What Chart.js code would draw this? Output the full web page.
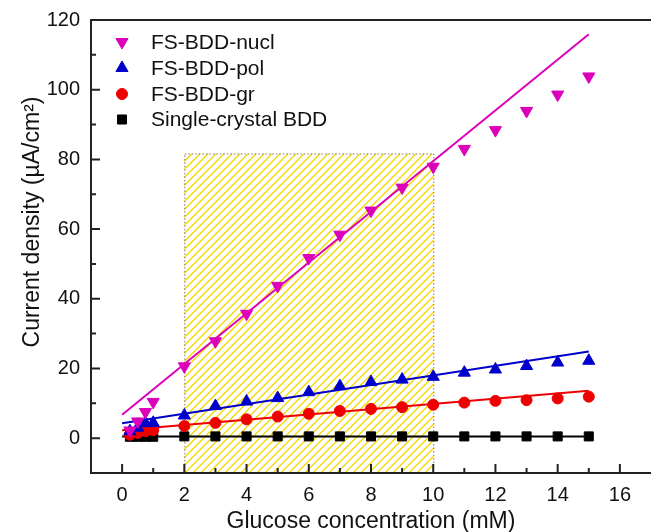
<!DOCTYPE html>
<html>
<head>
<meta charset="utf-8">
<script src="https://cdn.jsdelivr.net/npm/chart.js@4.4.0/dist/chart.umd.min.js"></script>
<style>
    html, body { margin: 0; padding: 0; background: #fff; }
    #wrap { width: 651px; height: 532px; }
</style>
</head>
<body>
<div id="wrap"><canvas id="densityChart" width="651" height="532"></canvas></div>
<script>
// ============================================
// DATA
// ============================================

const concentration = [0.25, 0.5, 0.75, 1, 2, 3, 4, 5, 6, 7, 8, 9, 10, 11, 12, 13, 14, 15];
const nuclDensity   = [2.2, 4.8, 7.5, 10.4, 20.6, 27.8, 35.7, 43.7, 51.7, 58.4, 65.3, 71.9, 77.9, 83.0, 88.4, 93.9, 98.6, 103.8];
const polDensity    = [2.0, 3.0, 4.3, 4.4, 6.5, 9.2, 10.5, 11.5, 13.2, 14.9, 16.1, 16.8, 17.6, 18.8, 19.7, 20.7, 21.7, 22.2];
const grDensity     = [1.0, 1.5, 2.0, 2.3, 3.5, 4.4, 5.4, 6.2, 7.0, 7.8, 8.4, 8.9, 9.6, 10.2, 10.7, 10.9, 11.4, 11.9];
const singleDensity = [0.4, 0.4, 0.4, 0.4, 0.5, 0.5, 0.5, 0.5, 0.5, 0.5, 0.5, 0.5, 0.5, 0.5, 0.5, 0.5, 0.5, 0.5];

// linear fits (end points)
const fitRange  = [0, 15];
const nuclFit   = [6.7, 115.9];
const polFit    = [4.3, 24.9];
const grFit     = [2.3, 13.6];
const singleFit = [0.5, 0.5];

// hatched linear range
const hatchRange = [2, 10];
const hatchTop = 81.7;

const seriesNames = ['FS-BDD-nucl', 'FS-BDD-pol', 'FS-BDD-gr', 'Single-crystal BDD'];

const xTicks = [0, 2, 4, 6, 8, 10, 12, 14, 16];
const xMinorTicks = [-1, 1, 3, 5, 7, 9, 11, 13, 15];
const yTicks = [0, 20, 40, 60, 80, 100, 120];
const yMinorTicks = [-10, 10, 30, 50, 70, 90, 110];

// ============================================
// STYLE
// ============================================

const FONT = "'Liberation Sans', Arial, sans-serif";
const colors = ['#DD00BB', '#0000CC', '#EE0000', '#000000'];
const markers = [
    { pointStyle: 'triangle', rotation: 180, radius: 7 },
    { pointStyle: 'triangle', rotation: 0, radius: 7 },
    { pointStyle: 'circle', rotation: 0, radius: 5.5 },
    { pointStyle: 'rect', rotation: 0, radius: 6.4 }
];

function toPoints(xs, ys) {
    return xs.map((x, i) => ({ x: x, y: ys[i] }));
}

function pointSet(i, values) {
    return {
        label: seriesNames[i],
        data: toPoints(concentration, values),
        showLine: false,
        pointStyle: markers[i].pointStyle,
        rotation: markers[i].rotation,
        pointRadius: markers[i].radius,
        pointBackgroundColor: colors[i],
        pointBorderColor: colors[i],
        pointBorderWidth: 1
    };
}

function fitSet(i, values) {
    return {
        label: seriesNames[i] + ' fit',
        data: toPoints(fitRange, values),
        showLine: true,
        pointRadius: 0,
        borderColor: colors[i],
        borderWidth: 2,
        fill: false
    };
}

// ============================================
// PLUGINS
// ============================================

const hatchPlugin = {
    id: 'hatch',
    beforeDatasetsDraw(chart) {
        const { ctx, chartArea: a, scales: { x, y } } = chart;
        const l = x.getPixelForValue(hatchRange[0]);
        const r = x.getPixelForValue(hatchRange[1]);
        const t = y.getPixelForValue(hatchTop);
        const b = a.bottom;
        const h = b - t;

        ctx.save();
        ctx.beginPath();
        ctx.rect(l, t, r - l, h);
        ctx.clip();
        ctx.strokeStyle = '#F5D800';
        ctx.lineWidth = 1.3;
        ctx.beginPath();
        for (let s = l - h; s < r + 8; s += 8) {
            ctx.moveTo(s, b);
            ctx.lineTo(s + h, t);
        }
        ctx.stroke();
        ctx.restore();

        ctx.save();
        ctx.strokeStyle = '#777';
        ctx.lineWidth = 1;
        ctx.setLineDash([1.5, 2]);
        ctx.strokeRect(l + 0.5, t + 0.5, r - l, h);
        ctx.restore();
    }
};

const framePlugin = {
    id: 'frame',
    afterDatasetsDraw(chart) {
        const { ctx, chartArea: a, scales: { x, y } } = chart;
        ctx.save();
        ctx.strokeStyle = '#222';
        ctx.lineWidth = 2;
        ctx.beginPath();
        ctx.moveTo(a.right, a.top);
        ctx.lineTo(a.left, a.top);
        ctx.lineTo(a.left, a.bottom);
        ctx.lineTo(a.right, a.bottom);
        ctx.stroke();

        ctx.beginPath();
        xTicks.forEach(v => {
            const px = x.getPixelForValue(v);
            ctx.moveTo(px, a.bottom);
            ctx.lineTo(px, a.bottom - 9);
        });
        xMinorTicks.forEach(v => {
            const px = x.getPixelForValue(v);
            ctx.moveTo(px, a.bottom);
            ctx.lineTo(px, a.bottom - 5);
        });
        yTicks.forEach(v => {
            const py = y.getPixelForValue(v);
            ctx.moveTo(a.left, py);
            ctx.lineTo(a.left + 9, py);
        });
        yMinorTicks.forEach(v => {
            const py = y.getPixelForValue(v);
            ctx.moveTo(a.left, py);
            ctx.lineTo(a.left + 5, py);
        });
        ctx.stroke();
        ctx.restore();
    }
};

const legendPlugin = {
    id: 'innerLegend',
    afterDraw(chart) {
        const ctx = chart.ctx;
        const rows = [42, 68, 94, 119.5];
        ctx.save();
        seriesNames.forEach((name, i) => {
            ctx.fillStyle = colors[i];
            ctx.strokeStyle = colors[i];
            ctx.lineWidth = 1;
            Chart.helpers.drawPoint(ctx, {
                pointStyle: markers[i].pointStyle,
                rotation: markers[i].rotation,
                radius: markers[i].radius,
                borderWidth: 1
            }, 122, rows[i]);
            ctx.fillStyle = '#111';
            ctx.font = '21px ' + FONT;
            ctx.textAlign = 'left';
            ctx.textBaseline = 'middle';
            ctx.fillText(name, 151, rows[i] + 1);
        });
        ctx.restore();
    }
};

const yTitlePlugin = {
    id: 'yTitle',
    afterDraw(chart) {
        const ctx = chart.ctx;
        ctx.save();
        ctx.translate(33, 222);
        ctx.rotate(-Math.PI / 2);
        ctx.fillStyle = '#111';
        ctx.font = '23px ' + FONT;
        ctx.textAlign = 'center';
        ctx.textBaseline = 'middle';
        ctx.fillText('Current density (\u00B5A/cm\u00B2)', 0, 0);
        ctx.restore();
    }
};

// ============================================
// CHART
// ============================================

const ctx = document.getElementById('densityChart');

new Chart(ctx, {
    type: 'scatter',
    data: {
        datasets: [
            pointSet(0, nuclDensity),
            pointSet(1, polDensity),
            pointSet(2, grDensity),
            pointSet(3, singleDensity),
            fitSet(0, nuclFit),
            fitSet(1, polFit),
            fitSet(2, grFit),
            fitSet(3, singleFit)
        ]
    },
    options: {
        responsive: false,
        animation: false,
        devicePixelRatio: 1,
        layout: {
            autoPadding: false,
            padding: { left: 0, top: 20, right: 0, bottom: 0 }
        },
        plugins: {
            legend: { display: false },
            tooltip: { enabled: false }
        },
        scales: {
            x: {
                type: 'linear',
                min: -1,
                max: 17,
                border: { display: false },
                grid: { display: false, drawTicks: false },
                afterBuildTicks: scale => { scale.ticks = xTicks.map(v => ({ value: v })); },
                afterFit: scale => {
                    scale.height = 59;
                    scale.paddingLeft = 0;
                    scale.paddingRight = 0;
                },
                ticks: {
                    color: '#111',
                    padding: 10,
                    maxRotation: 0,
                    font: { family: FONT, size: 20 }
                },
                title: {
                    display: true,
                    text: 'Glucose concentration (mM)',
                    color: '#111',
                    padding: { top: 0, bottom: -3 },
                    font: { family: FONT, size: 23 }
                }
            },
            y: {
                type: 'linear',
                min: -10,
                max: 120,
                border: { display: false },
                grid: { display: false, drawTicks: false },
                afterBuildTicks: scale => { scale.ticks = yTicks.map(v => ({ value: v })); },
                afterFit: scale => {
                    scale.width = 91;
                    scale.paddingTop = 0;
                    scale.paddingBottom = 0;
                },
                ticks: {
                    color: '#111',
                    padding: 11,
                    font: { family: FONT, size: 20 }
                }
            }
        }
    },
    plugins: [hatchPlugin, framePlugin, legendPlugin, yTitlePlugin]
});
</script>
</body>
</html>
